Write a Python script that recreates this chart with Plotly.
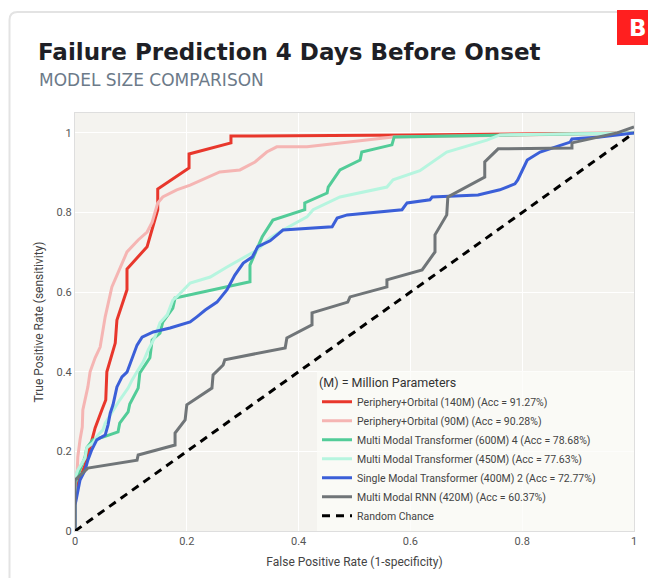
import plotly.graph_objects as go

# ---------------- data ----------------
red_name = "Periphery+Orbital (140M) (Acc = 91.27%)"
red_fpr = [0, 0, 0.009, 0.018, 0.027, 0.036, 0.048, 0.055, 0.057, 0.072, 0.075, 0.093, 0.093,
           0.129, 0.148, 0.148, 0.204, 0.204, 0.279, 0.279, 0.6, 1.0]
red_tpr = [0, 0.10, 0.133, 0.166, 0.211, 0.259, 0.304, 0.329, 0.40, 0.472, 0.53, 0.606, 0.658,
           0.714, 0.807, 0.859, 0.912, 0.947, 0.975, 0.992, 0.995, 1.0]

pink_name = "Periphery+Orbital (90M) (Acc = 90.28%)"
pink_fpr = [0, 0, 0.004, 0.005, 0.009, 0.013, 0.014, 0.018, 0.023, 0.027, 0.036, 0.045, 0.054,
            0.066, 0.080, 0.093, 0.113, 0.129, 0.138, 0.148, 0.157, 0.182, 0.206, 0.236, 0.259,
            0.295, 0.322, 0.343, 0.361, 0.415, 0.474, 0.533, 0.569, 0.698, 1.0]
pink_tpr = [0, 0.128, 0.153, 0.186, 0.229, 0.261, 0.304, 0.329, 0.362, 0.40, 0.435, 0.462, 0.538,
            0.613, 0.661, 0.701, 0.731, 0.751, 0.776, 0.824, 0.839, 0.857, 0.869, 0.887, 0.902,
            0.907, 0.927, 0.952, 0.965, 0.965, 0.975, 0.985, 0.990, 0.992, 1.0]

green_name = "Multi Modal Transformer (600M) 4 (Acc = 78.68%)"
green_fpr = [0, 0, 0.004, 0.018, 0.021, 0.032, 0.050, 0.077, 0.080, 0.095, 0.098, 0.113, 0.116,
             0.120, 0.134, 0.138, 0.152, 0.157, 0.175, 0.179, 0.313, 0.313, 0.327, 0.335, 0.354,
             0.411, 0.411, 0.451, 0.453, 0.474, 0.510, 0.513, 0.567, 0.571, 1.0]
green_tpr = [0, 0.116, 0.136, 0.186, 0.209, 0.229, 0.236, 0.249, 0.271, 0.299, 0.319, 0.359, 0.397,
             0.405, 0.435, 0.480, 0.497, 0.525, 0.560, 0.585, 0.626, 0.668, 0.714, 0.739, 0.781,
             0.807, 0.824, 0.849, 0.864, 0.907, 0.932, 0.952, 0.970, 0.990, 1.0]

mint_name = "Multi Modal Transformer (450M) (Acc = 77.63%)"
mint_fpr = [0, 0, 0.005, 0.018, 0.021, 0.032, 0.041, 0.050, 0.054, 0.066, 0.075, 0.080, 0.095,
            0.102, 0.113, 0.122, 0.131, 0.143, 0.152, 0.165, 0.175, 0.182, 0.206, 0.242, 0.272,
            0.295, 0.326, 0.349, 0.372, 0.415, 0.426, 0.474, 0.533, 0.558, 0.569, 0.617, 0.665,
            0.737, 0.760, 1.0]
mint_tpr = [0, 0.133, 0.153, 0.183, 0.209, 0.221, 0.241, 0.254, 0.271, 0.299, 0.317, 0.329, 0.359,
            0.379, 0.405, 0.425, 0.455, 0.487, 0.523, 0.543, 0.580, 0.588, 0.623, 0.638, 0.663,
            0.681, 0.706, 0.736, 0.756, 0.789, 0.807, 0.839, 0.857, 0.864, 0.882, 0.905, 0.952,
            0.982, 0.995, 1.0]

blue_name = "Single Modal Transformer (400M) 2 (Acc = 72.77%)"
blue_fpr = [0, 0, 0.002, 0.004, 0.005, 0.009, 0.018, 0.023, 0.030, 0.039, 0.054, 0.059, 0.063,
            0.068, 0.075, 0.084, 0.093, 0.102, 0.111, 0.120, 0.140, 0.170, 0.206, 0.218, 0.233,
            0.254, 0.272, 0.286, 0.301, 0.317, 0.327, 0.349, 0.372, 0.460, 0.469, 0.487, 0.585,
            0.594, 0.635, 0.639, 0.721, 0.760, 0.787, 0.792, 0.801, 0.809, 0.832, 0.868, 0.886,
            0.889, 0.939, 1.0]
blue_tpr = [0, 0.065, 0.078, 0.095, 0.103, 0.128, 0.153, 0.178, 0.204, 0.229, 0.241, 0.266, 0.296,
            0.317, 0.362, 0.387, 0.399, 0.435, 0.467, 0.487, 0.500, 0.510, 0.525, 0.538, 0.555,
            0.575, 0.606, 0.643, 0.673, 0.688, 0.714, 0.729, 0.756, 0.764, 0.786, 0.794, 0.807,
            0.824, 0.832, 0.839, 0.844, 0.857, 0.872, 0.882, 0.907, 0.932, 0.952, 0.970, 0.977,
            0.985, 0.990, 1.0]

gray_name = "Multi Modal RNN (420M) (Acc = 60.37%)"
gray_fpr = [0, 0, 0.023, 0.111, 0.113, 0.179, 0.179, 0.197, 0.200, 0.245, 0.247, 0.265, 0.268,
            0.376, 0.379, 0.424, 0.424, 0.488, 0.492, 0.558, 0.558, 0.621, 0.644, 0.644, 0.665,
            0.667, 0.733, 0.733, 0.757, 0.889, 0.889, 0.970, 1.0]
gray_tpr = [0, 0.128, 0.158, 0.178, 0.191, 0.216, 0.246, 0.279, 0.317, 0.359, 0.392, 0.417, 0.430,
            0.460, 0.485, 0.518, 0.548, 0.575, 0.588, 0.613, 0.631, 0.656, 0.701, 0.744, 0.794,
            0.839, 0.889, 0.927, 0.960, 0.962, 0.975, 1.0, 1.015]

chance_name = "Random Chance"
chance_x = [0, 1]
chance_y = [0, 1]

title_text = "Failure Prediction 4 Days Before Onset"
subtitle_text = "MODEL SIZE COMPARISON"
legend_title = "(M) = Million Parameters"
x_title = "False Positive Rate (1-specificity)"
y_title = "True Positive Rate (sensitivity)"
tick_vals = [0, 0.2, 0.4, 0.6, 0.8, 1]
tick_text = ["0", "0.2", "0.4", "0.6", "0.8", "1"]

# ---------------- figure ----------------
W, H = 656, 578
OFF = 8  # page offset of the plot div
L, R, T, B = 67, 30, 105, 55
pw, ph = W - L - R, H - T - B


def px(x):  # screen pixel -> paper x
    return (x - OFF - L) / pw


def py(y):  # screen pixel -> paper y
    return (H - B - (y - OFF)) / ph


fig = go.Figure()
series = [
    (red_name, red_fpr, red_tpr, "#e8372c"),
    (pink_name, pink_fpr, pink_tpr, "#f5b5b3"),
    (green_name, green_fpr, green_tpr, "#52cc98"),
    (mint_name, mint_fpr, mint_tpr, "#b6f5df"),
    (blue_name, blue_fpr, blue_tpr, "#3b5fd8"),
    (gray_name, gray_fpr, gray_tpr, "#707578"),
]
for name, xs, ys, col in series:
    fig.add_trace(go.Scatter(x=xs, y=ys, mode="lines", name=name,
                             line=dict(color=col, width=3)))
fig.add_trace(go.Scatter(x=chance_x, y=chance_y, mode="lines", name=chance_name,
                         line=dict(color="black", width=3, dash="8px,6px")))

# card outline with rounded top-left corner
rx, ry = 8 / pw, 8 / ph
x0, y0, x1, y1 = px(9.5), py(600), px(680), py(12)
fig.add_shape(type="path", xref="paper", yref="paper",
              path=f"M {x0},{y0} L {x0},{y1-ry} Q {x0},{y1} {x0+rx},{y1} L {x1},{y1}",
              line=dict(color="#e3e3e3", width=2), layer="below")
# red badge
fig.add_shape(type="rect", xref="paper", yref="paper",
              x0=px(617), x1=px(680), y0=py(45), y1=py(10),
              fillcolor="#ff1f1f", line=dict(width=0))
# legend panel background (spans to the right edge of the plot)
fig.add_shape(type="rect", xref="paper", yref="paper",
              x0=px(317), x1=1, y0=0, y1=py(371),
              fillcolor="rgba(252,252,250,0.7)", line=dict(width=0), layer="above")

annotations = [
    dict(text="<b>B</b>", x=px(638), y=py(28), xref="paper", yref="paper",
         showarrow=False, font=dict(family="DejaVu Sans", size=23, color="white"),
         xanchor="center", yanchor="middle"),
    dict(text=f"<b>{title_text}</b>", x=px(36), y=py(52), xref="paper", yref="paper",
         showarrow=False, font=dict(family="DejaVu Sans", size=23, color="#1e1f26"),
         xanchor="left", yanchor="middle"),
    dict(text=subtitle_text, x=px(37), y=py(80), xref="paper", yref="paper",
         showarrow=False, font=dict(family="DejaVu Sans", size=17, color="#6c7a89"),
         xanchor="left", yanchor="middle"),
]

fig.update_layout(
    width=W, height=H,
    margin=dict(l=L, r=R, t=T, b=B),
    paper_bgcolor="white",
    plot_bgcolor="#f4f3ef",
    font=dict(family="Roboto", size=11, color="#444"),
    annotations=annotations,
    showlegend=True,
    legend=dict(
        title=dict(text=legend_title, font=dict(size=12.5, color="#333")),
        x=px(317), xanchor="left", y=0, yanchor="bottom",
        bgcolor="rgba(0,0,0,0)",
        font=dict(size=10.5, color="#444"),
        itemwidth=30,
    ),
    xaxis=dict(range=[0, 1], tickvals=tick_vals, ticktext=tick_text,
               showgrid=True, gridcolor="white", gridwidth=1, zeroline=False,
               showline=True, mirror=True, linecolor="#dedede", linewidth=1,
               title=dict(text=x_title, font=dict(size=12, color="#444"), standoff=10),
               tickfont=dict(size=11, color="#555"), fixedrange=True),
    yaxis=dict(range=[0, 1.05], tickvals=tick_vals, ticktext=tick_text,
               showgrid=True, gridcolor="white", gridwidth=1, zeroline=False,
               showline=True, mirror=True, linecolor="#dedede", linewidth=1,
               title=dict(text=y_title, font=dict(size=12, color="#444"), standoff=10),
               tickfont=dict(size=11, color="#555"), fixedrange=True),
)

fig.write_html("out.html")
